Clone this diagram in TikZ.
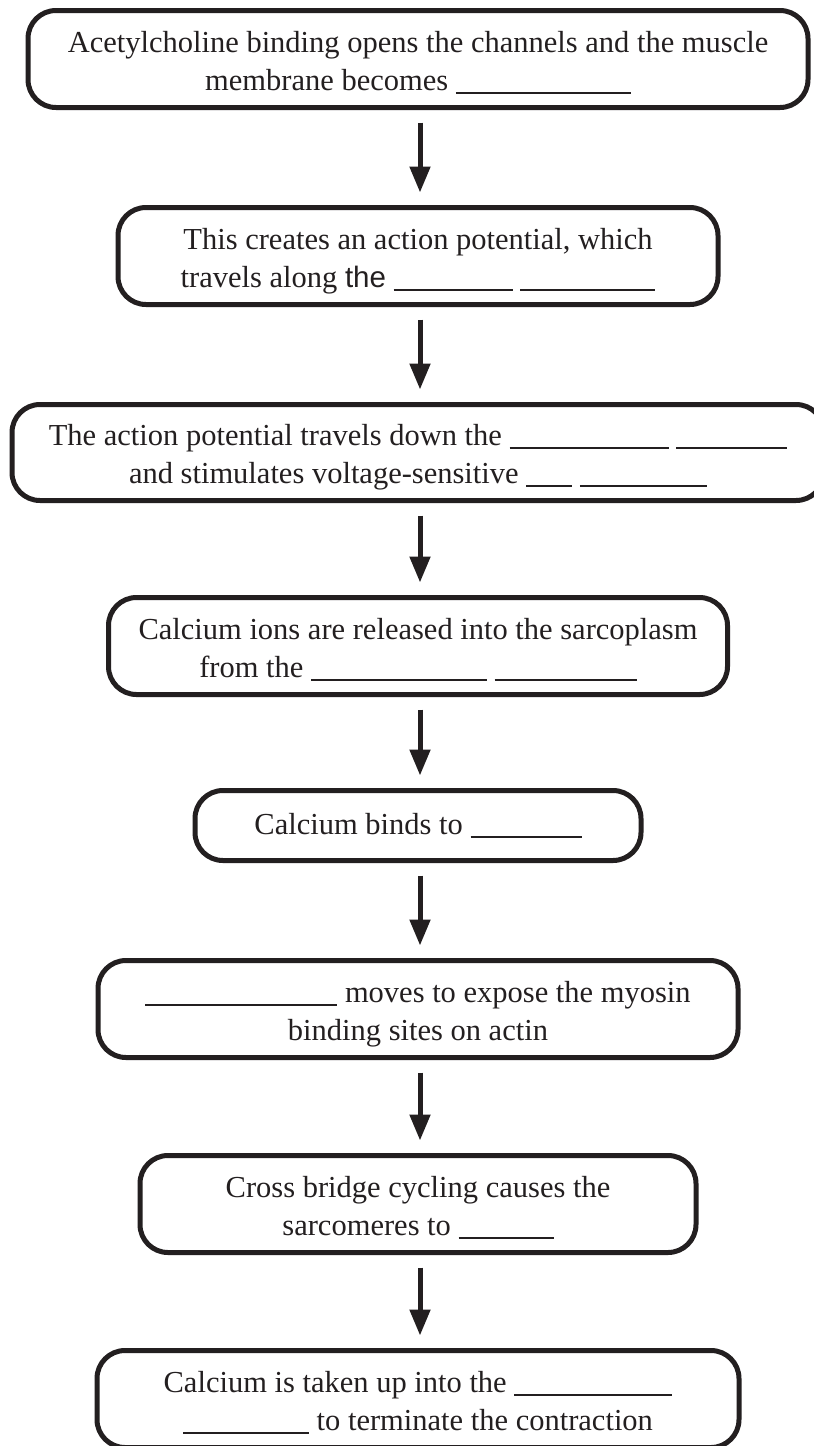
\documentclass[tikz,border=0pt]{standalone}
\usepackage{fontspec}
\setmainfont{Liberation Serif}
\newfontfamily\sansf{Liberation Sans}
\usetikzlibrary{arrows.meta}
\definecolor{ink}{HTML}{231F20}
\newcommand\bl[1]{\rule[-3.5pt]{#1pt}{1.7pt}}
\newcommand\tst{\rule{0pt}{31pt}}
\newcommand\bst{\rule[-7pt]{0pt}{7pt}}
\tikzset{
  flowbox/.style={draw=ink, line width=5pt, rounded corners=28pt, inner sep=0pt,
    align=center, minimum height=97pt, font=\fontsize{30.5pt}{38pt}\selectfont, text=ink},
  flowarrow/.style={draw=ink, line width=5pt, -{Triangle[width=20pt,length=26pt]},
    shorten <=12.5pt, shorten >=12.5pt}
}
\begin{document}
\begin{tikzpicture}[x=1pt,y=-1pt]
\useasboundingbox (0,0) rectangle (814,1446);
\clip (0,0) rectangle (814,1446);
\fill[white] (0,0) rectangle (814,1446);

\node[flowbox, minimum width=780pt] (b1) at (418,59)
  {\tst Acetylcholine binding opens the channels and the muscle\\membrane becomes \bl{175}\bst};
\node[flowbox, minimum width=600pt] (b2) at (418,256)
  {\tst This creates an action potential, which\\travels along {\sansf\fontsize{29.5pt}{38pt}\selectfont the} \bl{119} \bl{135}\bst};
\node[flowbox, minimum width=812pt, minimum height=96pt] (b3) at (418,452.5)
  {\tst The action potential travels down the \bl{159} \bl{111}\\and stimulates voltage-sensitive \bl{46} \bl{127}\bst};
\node[flowbox, minimum width=619pt] (b4) at (418,646)
  {\tst Calcium ions are released into the sarcoplasm\\from the \bl{176} \bl{142}\bst};
\node[flowbox, minimum width=446pt, minimum height=70pt] (b5) at (418,825.5)
  {Calcium binds to \bl{111}};
\node[flowbox, minimum width=640pt] (b6) at (418,1009)
  {\tst\bl{192} moves to expose the myosin\\binding sites on actin\bst};
\node[flowbox, minimum width=556pt] (b7) at (418,1204)
  {\tst Cross bridge cycling causes the\\sarcomeres to \bl{95}\bst};
\node[flowbox, minimum width=642pt] (b8) at (418,1399)
  {\tst Calcium is taken up into the \bl{158}\\\bl{126} to terminate the contraction\bst};

\draw[flowarrow] ([xshift=2pt]b1.south) -- ([xshift=2pt]b2.north);
\draw[flowarrow] ([xshift=2pt]b2.south) -- ([xshift=2pt]b3.north);
\draw[flowarrow] ([xshift=2pt]b3.south) -- ([xshift=2pt]b4.north);
\draw[flowarrow] ([xshift=2pt]b4.south) -- ([xshift=2pt]b5.north);
\draw[flowarrow] ([xshift=2pt]b5.south) -- ([xshift=2pt]b6.north);
\draw[flowarrow] ([xshift=2pt]b6.south) -- ([xshift=2pt]b7.north);
\draw[flowarrow] ([xshift=2pt]b7.south) -- ([xshift=2pt]b8.north);
\end{tikzpicture}
\end{document}
